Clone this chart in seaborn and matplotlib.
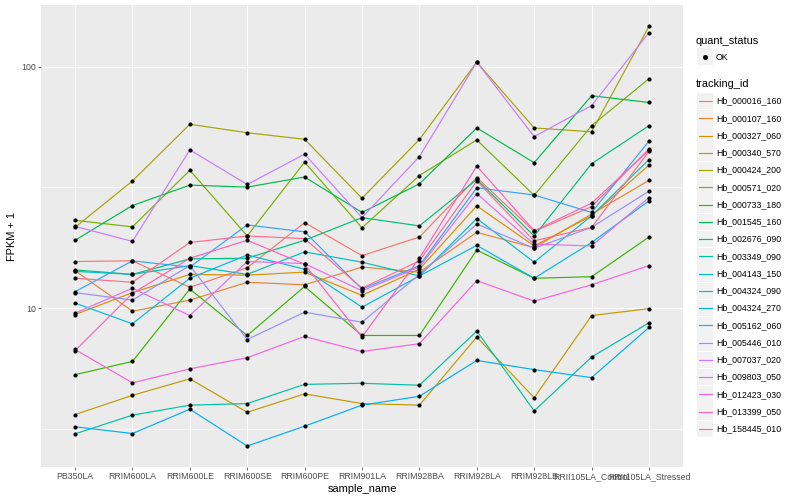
import numpy as np
import pandas as pd
import matplotlib
matplotlib.use("Agg")
import matplotlib.pyplot as plt
import seaborn as sns
from matplotlib.lines import Line2D
from matplotlib.patches import Rectangle
from matplotlib.ticker import FixedLocator, NullFormatter

# ── DATA ──────────────────────────────────────────────────────────────────────
samples = ["PB350LA", "RRIM600LA", "RRIM600LE", "RRIM600SE", "RRIM600PE",
           "RRIM901LA", "RRIM928BA", "RRIM928LA", "RRIM928LB",
           "RRII105LA_Control", "RRII105LA_Stressed"]

tracking_ids = ["Hb_000016_160", "Hb_000107_160", "Hb_000327_060", "Hb_000340_570",
                "Hb_000424_200", "Hb_000571_020", "Hb_000733_180", "Hb_001545_160",
                "Hb_002676_090", "Hb_003349_090", "Hb_004143_150", "Hb_004324_090",
                "Hb_004324_270", "Hb_005162_060", "Hb_005446_010", "Hb_007037_020",
                "Hb_009803_050", "Hb_012423_030", "Hb_013399_050", "Hb_158445_010"]

hb_000016_160 = [15.6, 15.7, 12.2, 14.7, 22.6, 16.5, 19.7, 34.7, 20.8, 26.3, 45.6]
hb_000107_160 = [14.3, 9.72, 10.8, 12.8, 12.5, 14.8, 14.1, 20.6, 17.8, 24.5, 33.8]
hb_000327_060 = [9.41, 11.6, 13.8, 13.7, 14.1, 11.3, 14.5, 26.5, 18.1, 24.1, 39.1]
hb_000340_570 = [3.63, 4.36, 5.10, 3.71, 4.42, 4.03, 3.97, 7.60, 4.26, 9.32, 9.96]
hb_000424_200 = [21.6, 33.6, 57.7, 53.2, 50.0, 28.5, 49.9, 104.3, 55.7, 53.7, 146.7]
hb_000571_020 = [23.1, 21.7, 37.2, 19.9, 40.2, 21.5, 35.4, 49.7, 29.3, 56.9, 89.0]
hb_000733_180 = [5.31, 6.02, 12.0, 7.71, 12.3, 7.71, 7.71, 17.4, 13.3, 13.5, 19.7]
hb_001545_160 = [19.1, 26.6, 32.3, 31.7, 34.9, 24.9, 32.7, 55.7, 40.0, 75.7, 71.0]
hb_002676_090 = [14.4, 13.8, 16.0, 16.1, 19.1, 23.7, 21.9, 34.1, 19.9, 39.6, 56.9]
hb_003349_090 = [3.02, 3.61, 3.97, 4.03, 4.84, 4.89, 4.80, 8.04, 3.76, 6.28, 8.70]
hb_004143_150 = [14.2, 13.8, 15.0, 13.8, 17.1, 15.5, 13.6, 23.5, 15.5, 24.1, 41.2]
hb_004324_090 = [10.5, 8.62, 13.3, 16.6, 14.5, 10.1, 13.6, 18.2, 13.3, 18.7, 27.8]
hb_004324_270 = [3.23, 3.03, 3.82, 2.69, 3.25, 3.97, 4.32, 6.08, 5.57, 5.16, 8.32]
hb_005162_060 = [11.7, 15.7, 14.8, 22.1, 20.7, 12.0, 15.0, 31.5, 29.4, 24.9, 49.1]
hb_005446_010 = [11.6, 10.8, 15.0, 7.42, 9.63, 8.75, 13.8, 22.3, 17.7, 21.6, 30.5]
hb_007037_020 = [21.8, 18.9, 45.2, 32.5, 43.4, 23.7, 42.4, 104.3, 51.3, 68.9, 138.1]
hb_009803_050 = [9.54, 12.1, 9.32, 15.6, 15.3, 11.8, 14.8, 29.8, 18.4, 18.1, 28.7]
hb_012423_030 = [6.75, 4.91, 5.61, 6.24, 7.64, 6.62, 7.13, 13.0, 10.7, 12.5, 15.0]
hb_013399_050 = [6.67, 11.5, 16.1, 19.1, 15.2, 7.60, 16.1, 38.7, 20.9, 27.2, 45.0]
hb_158445_010 = [13.3, 12.8, 18.7, 19.9, 19.4, 12.1, 15.7, 33.6, 19.0, 21.6, 44.5]

series = [hb_000016_160, hb_000107_160, hb_000327_060, hb_000340_570, hb_000424_200,
          hb_000571_020, hb_000733_180, hb_001545_160, hb_002676_090, hb_003349_090,
          hb_004143_150, hb_004324_090, hb_004324_270, hb_005162_060, hb_005446_010,
          hb_007037_020, hb_009803_050, hb_012423_030, hb_013399_050, hb_158445_010]

# ggplot hue palette for 20 levels
colors = ["#F8766D", "#EA8331", "#D89000", "#C09B00", "#A3A500", "#7CAE00", "#39B600",
          "#00BB4E", "#00BF7D", "#00C1A3", "#00BFC4", "#00BAE0", "#00B0F6", "#35A2FF",
          "#9590FF", "#C77CFF", "#E76BF3", "#FA62DB", "#FF62BC", "#FF6C91"]
# ─────────────────────────────────────────────────────────────────────────────

rows = []
for tid, vals in zip(tracking_ids, series):
    for s, v in zip(samples, vals):
        rows.append({"sample_name": s, "tracking_id": tid, "fpkm": v, "quant_status": "OK"})
df = pd.DataFrame(rows)

plt.rcParams["font.family"] = ["Liberation Sans", "DejaVu Sans"]

W, H = 800, 500
fig = plt.figure(figsize=(W / 100, H / 100), dpi=100)
ax = fig.add_axes([40.6 / W, 1 - 467 / H, (683.4 - 40.6) / W, (467 - 5.3) / H])
ax.set_facecolor("#EBEBEB")

sns.lineplot(data=df, x="sample_name", y="fpkm", hue="tracking_id",
             palette=dict(zip(tracking_ids, colors)), sort=False, estimator=None,
             linewidth=0.85, legend=False, ax=ax, zorder=3)
sns.scatterplot(data=df, x="sample_name", y="fpkm", color="black", s=9,
                linewidth=0, legend=False, ax=ax, zorder=4)

ax.set_yscale("log")
lo, hi = np.log10(df["fpkm"].min()), np.log10(df["fpkm"].max())
pad = (hi - lo) * 0.05
ax.set_ylim(10 ** (lo - pad), 10 ** (hi + pad))
ax.set_xlim(-0.6, len(samples) - 0.4)

ax.yaxis.set_major_locator(FixedLocator([10, 100]))
ax.yaxis.set_major_formatter(matplotlib.ticker.FixedFormatter(["10", "100"]))
ax.yaxis.set_minor_locator(FixedLocator([10 ** 0.5, 10 ** 1.5]))
ax.yaxis.set_minor_formatter(NullFormatter())

ax.grid(which="major", color="white", linewidth=0.8)
ax.grid(which="minor", axis="y", color="white", linewidth=0.4)
ax.set_axisbelow(True)
for sp in ax.spines.values():
    sp.set_visible(False)

ax.tick_params(axis="both", which="major", length=2, width=0.5, color="#333333",
               labelsize=6.3, labelcolor="#4D4D4D", pad=1.5)
ax.tick_params(axis="y", which="minor", length=0)

ax.set_xlabel("sample_name", fontsize=7.9, labelpad=2)
ax.set_ylabel("FPKM + 1", fontsize=7.9, labelpad=3)

# ── legend (ggplot style) ────────────────────────────────────────────────────
def fx(x):
    return x / W

def fy(y):
    return 1 - y / H

key_w, key_h = 16, 16.6
fig.text(fx(696), fy(40.7), "quant_status", fontsize=7.9, va="center", ha="left")
fig.add_artist(Rectangle((fx(697), fy(65)), key_w / W, key_h / H, transform=fig.transFigure,
                         facecolor="#F2F2F2", edgecolor="none"))
fig.add_artist(Line2D([fx(705)], [fy(57)], marker="o", markersize=2.6, color="black",
                      linestyle="none", transform=fig.transFigure))
fig.text(fx(716), fy(57), "OK", fontsize=6.3, va="center", ha="left")

fig.text(fx(696), fy(84.3), "tracking_id", fontsize=7.9, va="center", ha="left")
for i, (tid, col) in enumerate(zip(tracking_ids, colors)):
    yc = 101 + i * 17.26
    fig.add_artist(Rectangle((fx(697), fy(yc + key_h / 2)), key_w / W, key_h / H,
                             transform=fig.transFigure, facecolor="#F2F2F2", edgecolor="none"))
    fig.add_artist(Line2D([fx(698.5), fx(711.5)], [fy(yc), fy(yc)], color=col, linewidth=0.85,
                          transform=fig.transFigure))
    fig.text(fx(716), fy(yc), tid, fontsize=6.3, va="center", ha="left")

fig.savefig("out.png", dpi=100)
plt.close(fig)
